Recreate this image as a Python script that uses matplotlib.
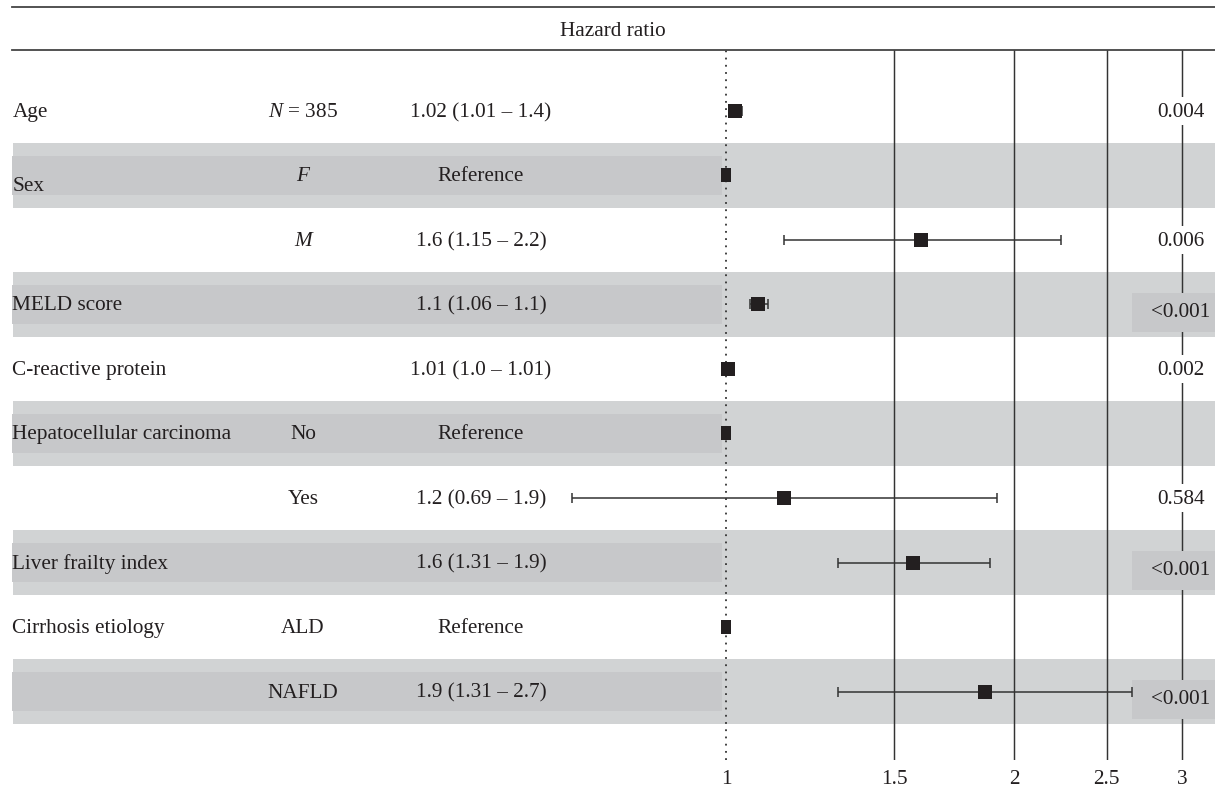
import numpy as np
import matplotlib
matplotlib.use("Agg")
import matplotlib.pyplot as plt
from matplotlib.patches import Rectangle
from matplotlib.lines import Line2D
from matplotlib.ticker import FixedLocator, FixedFormatter, NullLocator
import matplotlib.transforms as mtransforms

# ---- data -------------------------------------------------------------
variables = ["Age", "Sex", "", "MELD score", "C-reactive protein",
             "Hepatocellular carcinoma", "", "Liver frailty index",
             "Cirrhosis etiology", ""]
levels = ["$N$ = 385", "F", "M", "", "", "No", "Yes", "", "ALD", "NAFLD"]
italic_levels = ["F", "M"]
hr_labels = ["1.02 (1.01 – 1.4)", "Reference", "1.6 (1.15 – 2.2)",
             "1.1 (1.06 – 1.1)", "1.01 (1.0 – 1.01)", "Reference",
             "1.2 (0.69 – 1.9)", "1.6 (1.31 – 1.9)", "Reference",
             "1.9 (1.31 – 2.7)"]
p_labels = ["0.004", "", "0.006", "<0.001", "0.002", "", "0.584",
            "<0.001", "", "<0.001"]
hazard = [1.022, 1.0, 1.60, 1.08, 1.006, 1.0, 1.15, 1.57, 1.0, 1.865]
ci_low = [1.01, np.nan, 1.15, 1.06, 1.0, np.nan, 0.69, 1.31, np.nan, 1.31]
ci_high = [1.04, np.nan, 2.24, 1.106, 1.01, np.nan, 1.92, 1.89, np.nan, 2.66]
is_reference = [lab == "Reference" for lab in hr_labels]
tick_values = [1, 1.5, 2, 2.5, 3]
tick_labels = ["1", "1.5", "2", "2.5", "3"]

# ---- style ------------------------------------------------------------
plt.rcParams["font.family"] = ["Liberation Serif", "DejaVu Serif"]
plt.rcParams["mathtext.fontset"] = "custom"
plt.rcParams["mathtext.rm"] = "Liberation Serif"
plt.rcParams["mathtext.it"] = "Liberation Serif:italic"
FS = 15.3
TXT = "#231f20"
BAND = "#d1d3d4"
INNER = "#c7c8ca"
LINE = "#333333"

W, H = 1215, 792
fig = plt.figure(figsize=(W / 100, H / 100), dpi=100)

# axes box in pixels: x 11.5..1215, y 50..760
ax_l, ax_r, ax_t, ax_b = 11.5, 1215.0, 50.0, 760.0
ax = fig.add_axes([ax_l / W, (H - ax_b) / H, (ax_r - ax_l) / W, (ax_b - ax_t) / H])

def fx(px):
    """horizontal pixel position -> axes fraction"""
    return (px - ax_l) / (ax_r - ax_l)

n = len(variables)
rows = np.arange(n)
row_px = 64.5
first_row_px = 111.0
ax.set_ylim((ax_b - first_row_px) / row_px, (ax_t - first_row_px) / row_px)
ax.set_xscale("log")
ax.set_xlim(np.exp((ax_l - 726) / 415.5), np.exp((ax_r - 726) / 415.5))

trans = mtransforms.blended_transform_factory(ax.transAxes, ax.transData)

# alternating row shading
for r in rows:
    if r % 2 == 1:
        ax.add_patch(Rectangle((fx(13.4), r - 0.5), 1 - fx(13.4), 1.0,
                               transform=trans, facecolor=BAND,
                               edgecolor="none", zorder=0))
        ax.add_patch(Rectangle((0, r - 0.295), fx(721.7), 0.59,
                               transform=trans, facecolor=INNER,
                               edgecolor="none", zorder=1))

# reference lines
ax.axvline(1, color="#333333", lw=1.3, ls=(0, (1, 3.0)), zorder=2)
for v in tick_values[1:]:
    ax.axvline(v, color=LINE, lw=1.05, zorder=2)

# confidence intervals and point estimates
for r in rows:
    if not is_reference[r]:
        ax.errorbar([hazard[r]], [r],
                    xerr=[[hazard[r] - ci_low[r]], [ci_high[r] - hazard[r]]],
                    fmt="none", ecolor=LINE, elinewidth=1.1, capsize=3.8,
                    capthick=1.1, zorder=4)
sq = [r for r in rows if not is_reference[r]]
ref = [r for r in rows if is_reference[r]]
ax.plot([hazard[r] for r in sq], sq, ls="none", marker="s", ms=10,
        color=TXT, mew=0, zorder=5)
narrow = [(-0.4, -0.5), (0.4, -0.5), (0.4, 0.5), (-0.4, 0.5), (-0.4, -0.5)]
ax.plot([hazard[r] for r in ref], ref, ls="none", marker=narrow, ms=9.8,
        color=TXT, mew=0, zorder=5)

# text columns
base = 6 / row_px
for r in rows:
    dy = 15.5 / row_px if variables[r] == "Sex" else base
    if variables[r]:
        ax.text(fx(12.5), r + dy, variables[r], transform=trans, ha="left",
                va="baseline", fontsize=FS, color=TXT, zorder=6)
    if levels[r]:
        ax.text(fx(303), r + base, levels[r], transform=trans, ha="center",
                va="baseline", fontsize=FS, color=TXT, zorder=6,
                fontstyle="italic" if levels[r] in italic_levels else "normal")
    ax.text(fx(481), r + base, hr_labels[r], transform=trans, ha="center",
            va="baseline", fontsize=FS, color=TXT, zorder=6)
    if p_labels[r]:
        if r % 2 == 1:
            ax.add_patch(Rectangle((fx(1132), r + 0.12 - 0.3), 1 - fx(1132), 0.6,
                                   transform=trans, facecolor=INNER,
                                   edgecolor="none", zorder=3))
            ax.text(fx(1181), r + 0.19, p_labels[r], transform=trans,
                    ha="center", va="baseline", fontsize=FS, color=TXT, zorder=6)
        else:
            ax.add_patch(Rectangle((fx(1174), r - 0.22), fx(1193) - fx(1174), 0.44,
                                   transform=trans, facecolor="white",
                                   edgecolor="none", zorder=3))
            ax.text(fx(1181), r + base, p_labels[r], transform=trans,
                    ha="center", va="baseline", fontsize=FS, color=TXT, zorder=6)

# axis ticks
ax.xaxis.set_major_locator(FixedLocator(tick_values))
ax.xaxis.set_major_formatter(FixedFormatter(tick_labels))
ax.xaxis.set_minor_locator(NullLocator())
ax.tick_params(axis="x", length=0, pad=7, labelsize=FS, labelcolor=TXT)
ax.set_yticks([])
for s in ax.spines.values():
    s.set_visible(False)
ax.patch.set_alpha(0)

# header
for ypx in (7.3, 50.0):
    fig.add_artist(Line2D([ax_l / W, 1], [1 - ypx / H, 1 - ypx / H],
                          color="#444444", lw=1.3))
fig.text((ax_l + (ax_r - ax_l) / 2) / W, 1 - 31 / H, "Hazard ratio",
         ha="center", va="center", fontsize=FS, color=TXT)

fig.savefig("out.png", dpi=100)
